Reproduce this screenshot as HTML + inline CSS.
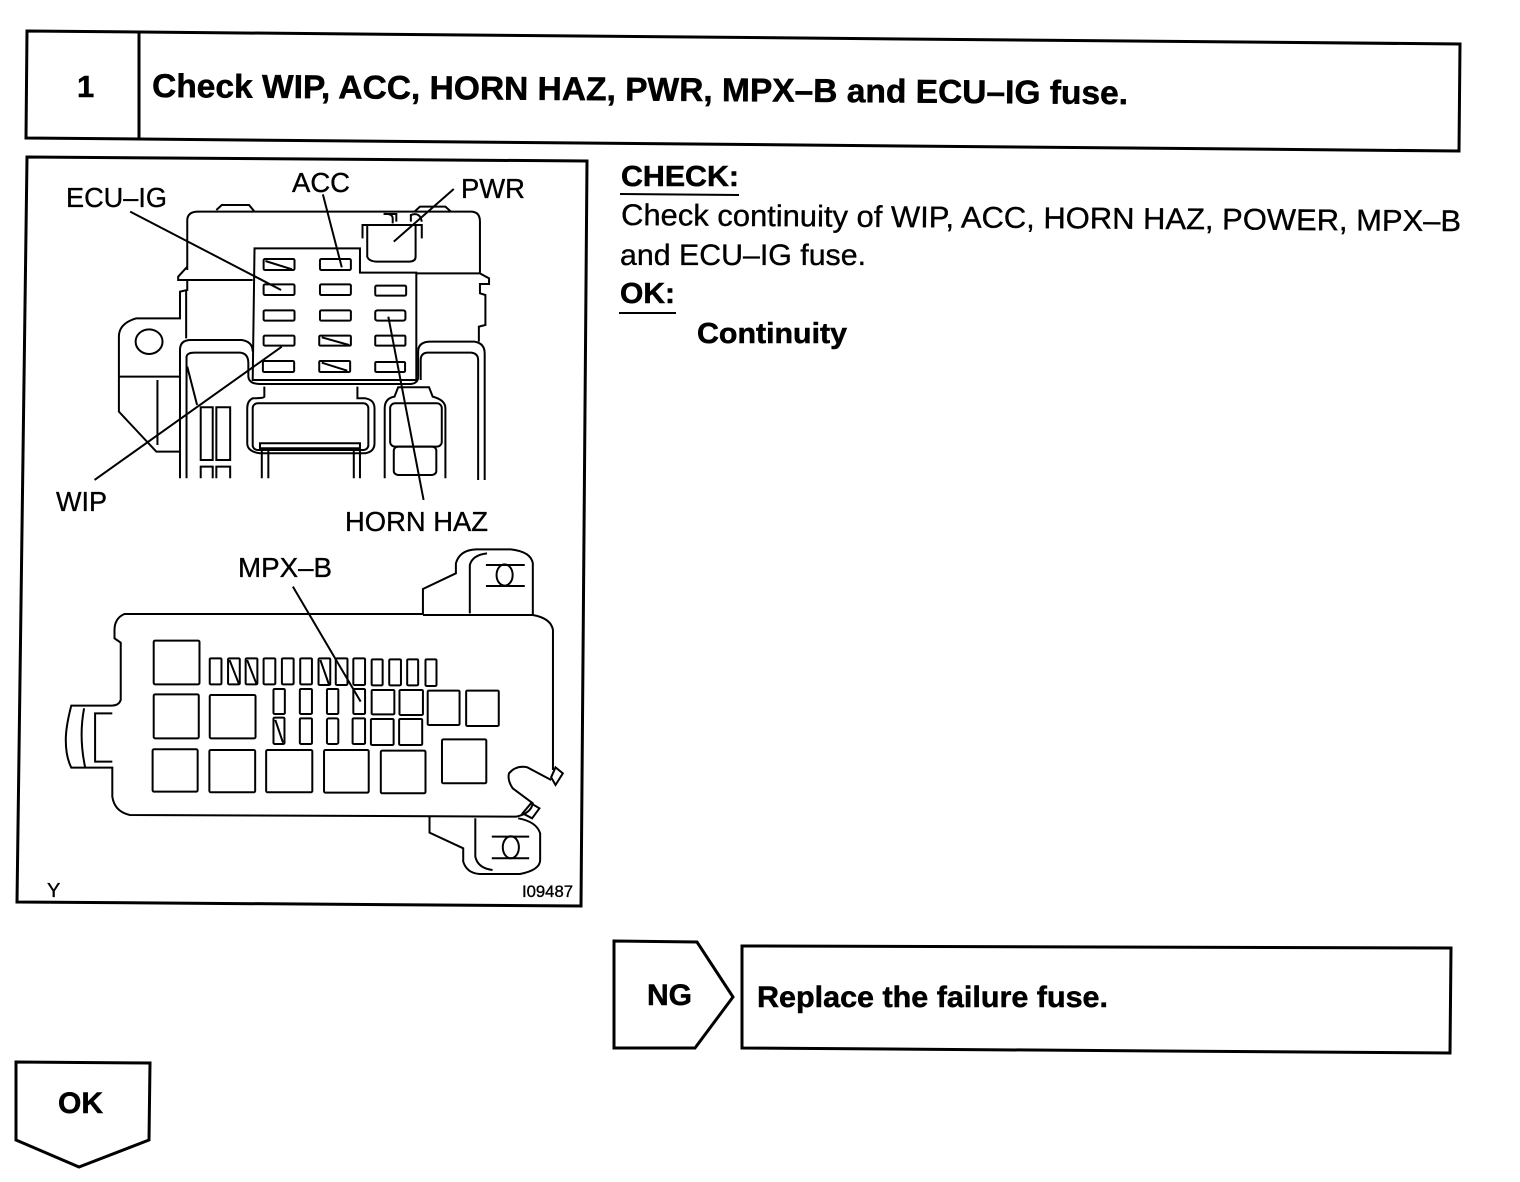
<!DOCTYPE html>
<html><head><meta charset="utf-8">
<style>
html,body{margin:0;padding:0;background:#fff;width:1520px;height:1182px;overflow:hidden}
svg{display:block}
text{font-family:"Liberation Sans",sans-serif;fill:#000;stroke:#000;stroke-width:.35}
.b{font-weight:bold;stroke-width:.5}
.z path,.z rect,.z ellipse,.z circle,.z line,.z polygon{fill:none;stroke:#000;stroke-width:2;vector-effect:non-scaling-stroke}
</style></head><body>
<svg width="1520" height="1182" viewBox="0 0 1520 1182" xmlns="http://www.w3.org/2000/svg">
<rect width="1520" height="1182" fill="#fff"/>
<g fill="none" stroke="#000" stroke-width="3">
<polygon points="27,31 1460,44 1459,151 26,138"/>
<line x1="139" y1="32" x2="139" y2="139"/>
<polygon points="27,157 587,161 581,906 17,902"/>
<polygon points="614,941 697,942 733,997 695,1048 614,1048"/>
<polygon points="742,946 1451,948 1450,1053 742,1048"/>
<polygon points="16,1062 150,1063 149,1140 79,1167 16,1140"/>
</g>
<text class="b" x="77" y="97" font-size="31">1</text>
<text class="b" x="152" y="97" font-size="33" textLength="976" lengthAdjust="spacingAndGlyphs" transform="rotate(0.42 152 97)">Check WIP, ACC, HORN HAZ, PWR, MPX–B and ECU–IG fuse.</text>
<text class="b" x="621" y="186" font-size="29" textLength="118" lengthAdjust="spacingAndGlyphs">CHECK:</text>
<line x1="620" y1="194" x2="739" y2="195" stroke="#000" stroke-width="2"/>
<text x="621" y="225" font-size="30" textLength="840" lengthAdjust="spacingAndGlyphs" transform="rotate(0.42 621 225)">Check continuity of WIP, ACC, HORN HAZ, POWER, MPX–B</text>
<text x="620" y="265" font-size="30" textLength="246" lengthAdjust="spacingAndGlyphs">and ECU–IG fuse.</text>
<text class="b" x="620" y="303" font-size="29" textLength="55" lengthAdjust="spacingAndGlyphs">OK:</text>
<line x1="619" y1="313" x2="676" y2="313" stroke="#000" stroke-width="2"/>
<text class="b" x="697" y="343" font-size="29" textLength="150" lengthAdjust="spacingAndGlyphs">Continuity</text>
<text class="b" x="647" y="1005" font-size="30" textLength="45" lengthAdjust="spacingAndGlyphs">NG</text>
<text class="b" x="757" y="1007" font-size="30" textLength="351" lengthAdjust="spacingAndGlyphs">Replace the failure fuse.</text>
<text class="b" x="58" y="1113" font-size="30" textLength="45" lengthAdjust="spacingAndGlyphs">OK</text>

<text x="66" y="207" font-size="28" textLength="101" lengthAdjust="spacingAndGlyphs">ECU–IG</text>
<text x="292" y="192" font-size="28" textLength="58" lengthAdjust="spacingAndGlyphs">ACC</text>
<text x="461" y="198" font-size="28" textLength="64" lengthAdjust="spacingAndGlyphs">PWR</text>
<text x="56" y="511" font-size="28" textLength="51" lengthAdjust="spacingAndGlyphs">WIP</text>
<text x="345" y="531" font-size="28" textLength="143" lengthAdjust="spacingAndGlyphs">HORN HAZ</text>
<text x="238" y="577" font-size="28" textLength="94" lengthAdjust="spacingAndGlyphs">MPX–B</text>
<text x="47" y="897" font-size="20">Y</text>
<text x="522" y="897" font-size="17" textLength="51" lengthAdjust="spacingAndGlyphs">I09487</text>

<g class="z" transform="translate(20,160) scale(0.3636,0.3333)">
<path d="M460,330 V182 Q460,155 490,155 H1240 Q1265,155 1265,185 V338"/>
<path d="M540,150 L555,135 H630 L645,155 M1085,155 L1100,140 H1170 L1185,155"/>
<path d="M460,320 L435,350 V360 H640 M460,360 V390 L440,395 V475 H320 Q272,490 272,530 V755 L375,875 H440"/>
<path d="M272,650 H440 M378,660 V855 M457,390 V535"/>
<path d="M1090,340 H1265 L1290,355 V372 H1265 V400 L1280,405 V495 L1262,500 V545"/>
<path d="M440,955 V570 Q440,540 470,540 H610 Q640,545 640,575 M458,955 V590 Q460,578 480,578 H605 Q628,580 628,610 V650 Q630,672 660,672 H1075 Q1095,670 1095,650 V575 Q1095,545 1130,545 H1250 Q1278,550 1278,580 V960 M1102,660 V600 Q1102,580 1120,578 H1240 Q1260,580 1260,600 V960"/>
<path d="M645,265 H935 V338 H1090 V660 H640 Z"/>
<path d="M460,620 L487,735"/>
<path d="M497,955 V920 H530 V955 M540,955 V920 H578 V955"/>
<rect x="497" y="742" width="33" height="158"/><rect x="540" y="742" width="38" height="158"/>
<path d="M672,680 V710 Q672,715 640,715 Q625,722 625,745 V850 Q625,875 660,880 H950 Q975,875 975,850 V745 Q975,720 950,715 H928 V680"/>
<rect x="640" y="730" width="318" height="140" rx="14"/>
<rect x="660" y="850" width="275" height="15"/>
<path d="M665,870 V955 M683,870 V955 M918,870 V955 M935,870 V955"/>
<path d="M1003,955 V745 Q1003,715 1030,710 L1040,682 H1125 L1135,710 Q1170,720 1170,745 V955"/>
<rect x="1018" y="730" width="142" height="130" rx="14"/>
<rect x="1028" y="860" width="117" height="85" rx="12"/>
<path d="M955,195 V290 Q960,305 985,305 H1070 Q1088,305 1088,290 V195 Z"/>
<path d="M942,235 V195 H955 M1105,235 V195 H1088 M1025,190 V175 Q1025,160 1000,162 H1035 V185 M1075,185 V165 Q1100,155 1105,185"/>
<circle cx="355" cy="545" r="37"/>
<rect x="670" y="297" width="85" height="33" rx="4"/><rect x="825" y="297" width="85" height="33" rx="4"/>
<rect x="670" y="373" width="85" height="32" rx="4"/><rect x="825" y="373" width="85" height="32" rx="4"/><rect x="977" y="377" width="85" height="30" rx="4"/>
<rect x="670" y="451" width="85" height="31" rx="4"/><rect x="825" y="451" width="85" height="31" rx="4"/><rect x="977" y="451" width="83" height="31" rx="6"/>
<rect x="670" y="527" width="85" height="30" rx="4"/><rect x="823" y="527" width="87" height="30" rx="3"/><rect x="977" y="527" width="83" height="30" rx="3"/>
<rect x="668" y="603" width="86" height="33" rx="4"/><rect x="823" y="603" width="85" height="33" rx="3"/><rect x="977" y="606" width="82" height="30" rx="3"/>
<path d="M675,303 L748,328 M830,532 L905,555 M830,608 L900,632"/>
<path d="M303,155 L718,390 M833,103 L885,322 M1193,87 L1028,245 M205,960 L720,560 M1013,470 L1110,1020"/>
</g>

<g class="z" transform="translate(20,540) scale(0.3663,0.3333)">
<path d="M1100,222 H285 Q258,235 258,270 V295 L275,308 V480 Q270,497 250,497 H140 Q125,560 125,600 Q125,650 140,683 H252 V770 Q258,815 300,825 L1355,830 Q1395,820 1400,790 L1345,745 Q1330,720 1335,700 Q1355,675 1385,682 L1450,720 M1455,690 V270 Q1450,235 1400,225 H1100"/>
<polygon points="1450,712 1462,682 1482,700 1462,735"/>
<polygon points="1395,790 1418,805 1398,835 1372,820"/>
<path d="M175,505 Q160,590 178,683"/>
<path d="M252,520 H205 V665 H252"/>
<path d="M1100,222 V147 L1190,100 V70 Q1200,30 1245,28 H1340 Q1395,35 1400,70 V225 M1228,220 V75 Q1235,45 1275,40 M1272,75 H1378 M1272,138 H1378"/>
<ellipse cx="1323" cy="105" rx="22" ry="32"/>
<path d="M1118,830 V878 L1210,925 V965 Q1220,1000 1255,1002 H1365 Q1420,990 1420,960 V880 Q1410,845 1360,835 M1243,835 V950 Q1250,985 1290,990 M1288,890 H1390 M1288,955 H1390"/>
<ellipse cx="1340" cy="922" rx="22" ry="33"/>
<rect x="365" y="302" width="125" height="131" rx="4"/><rect x="365" y="463" width="123" height="132" rx="4"/><rect x="518" y="465" width="125" height="130" rx="4"/>
<rect x="362" y="628" width="123" height="127" rx="4"/><rect x="517" y="630" width="125" height="127" rx="4"/><rect x="672" y="630" width="126" height="127" rx="4"/><rect x="830" y="630" width="122" height="128" rx="4"/><rect x="985" y="632" width="122" height="128" rx="4"/><rect x="1152" y="598" width="121" height="132" rx="4"/>
<rect x="960" y="450" width="62" height="73" rx="3"/><rect x="1036" y="450" width="64" height="75" rx="3"/><rect x="1113" y="452" width="87" height="103" rx="3"/><rect x="1218" y="452" width="89" height="106" rx="3"/><rect x="958" y="537" width="62" height="78" rx="3"/><rect x="1035" y="537" width="63" height="78" rx="3"/>
<rect x="518" y="355" width="32" height="78" rx="3"/><rect x="568" y="355" width="32" height="78" rx="3"/><rect x="616" y="355" width="32" height="78" rx="3"/><rect x="665" y="355" width="32" height="78" rx="3"/><rect x="715" y="355" width="32" height="78" rx="3"/><rect x="765" y="355" width="32" height="78" rx="3"/><rect x="815" y="355" width="32" height="80" rx="3"/><rect x="862" y="355" width="32" height="80" rx="3"/><rect x="910" y="355" width="32" height="80" rx="3"/><rect x="960" y="358" width="30" height="78" rx="3"/><rect x="1008" y="358" width="32" height="78" rx="3"/><rect x="1057" y="358" width="30" height="78" rx="3"/><rect x="1107" y="358" width="30" height="80" rx="3"/>
<rect x="692" y="447" width="31" height="75" rx="3"/><rect x="764" y="447" width="33" height="75" rx="3"/><rect x="838" y="447" width="31" height="75" rx="3"/><rect x="910" y="447" width="32" height="75" rx="3"/>
<rect x="692" y="533" width="30" height="79" rx="3"/><rect x="764" y="535" width="33" height="77" rx="3"/><rect x="838" y="535" width="31" height="77" rx="5"/><rect x="908" y="535" width="34" height="77" rx="3"/>
<path d="M572,360 L597,430 M620,360 L645,430 M820,360 L843,432 M697,540 L718,608"/>
<path d="M745,140 L930,485"/>
</g>
</svg>
</body></html>
